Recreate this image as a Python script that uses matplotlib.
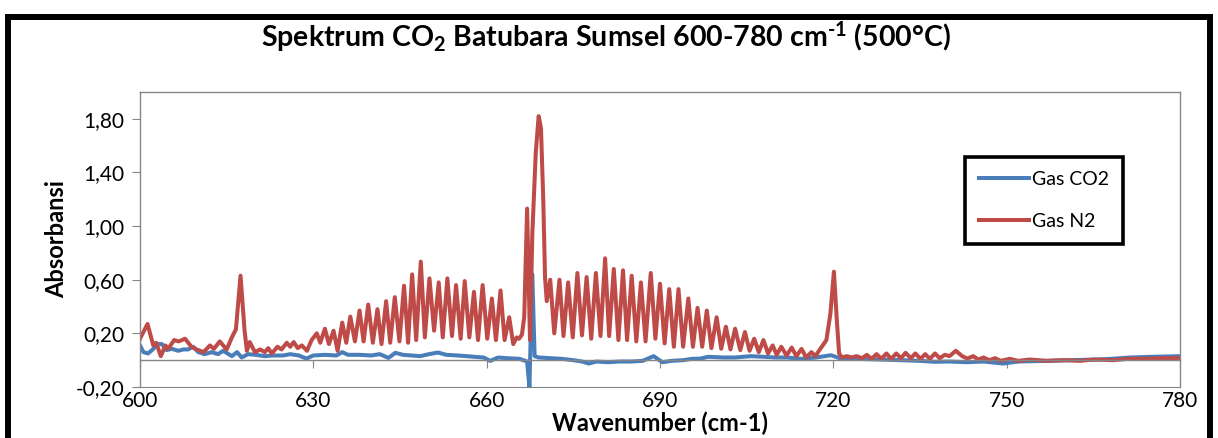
import numpy as np
import matplotlib
matplotlib.use("Agg")
import matplotlib.pyplot as plt
from matplotlib.ticker import FuncFormatter
from matplotlib.patches import Rectangle

plt.rcParams['font.family'] = ['Lato', 'DejaVu Sans']
plt.rcParams['mathtext.fontset'] = 'custom'
plt.rcParams['mathtext.rm'] = 'Lato:bold'
plt.rcParams['mathtext.bf'] = 'Lato:bold'
plt.rcParams['mathtext.default'] = 'rm'

# Gas N2 spectrum (peaks and valleys)
wn_n2 = [600.0, 601.3, 602.3, 602.8, 603.6, 604.4, 604.9, 605.9, 606.7, 607.8,
         608.9, 609.8, 611.0, 612.1, 612.8, 613.8, 615.0, 615.9, 616.6, 617.4,
         618.1, 618.5, 619.0, 619.9, 620.8, 621.6, 622.2, 622.8, 623.8, 624.5,
         625.4, 626.0, 626.6, 627.3, 628.0, 628.9, 629.7, 630.6, 631.2, 632.0,
         632.7, 633.5, 634.2, 635.0, 635.7, 636.4, 637.2, 638.0, 638.7, 639.5,
         640.3, 641.1, 641.8, 642.6, 643.3, 644.1, 644.9, 645.7, 646.4, 647.1,
         647.8, 648.6, 649.3, 650.1, 650.9, 651.7, 652.4, 653.2, 654.0, 654.7,
         655.5, 656.2, 657.0, 657.8, 658.5, 659.3, 660.1, 660.9, 661.6, 662.4,
         663.1, 663.9, 664.6, 665.2, 665.6, 666.1, 666.5, 667.0, 667.5, 667.9,
         668.5, 669.0, 669.4, 669.8, 670.1, 670.4, 671.0, 671.7, 672.6, 673.3,
         674.1, 674.9, 675.7, 676.5, 677.3, 678.1, 678.9, 679.7, 680.5, 681.2,
         682.0, 682.8, 683.6, 684.3, 685.1, 685.9, 686.7, 687.5, 688.4, 689.2,
         690.0, 690.8, 691.6, 692.4, 693.2, 694.0, 694.9, 695.7, 696.5, 697.3,
         698.1, 698.9, 699.8, 700.6, 701.4, 702.2, 703.0, 703.9, 704.7, 705.5,
         706.3, 707.1, 707.9, 708.7, 709.5, 710.2, 711.0, 711.9, 712.8, 713.6,
         714.5, 715.3, 716.2, 716.9, 717.5, 718.0, 718.8, 719.5, 720.1, 720.6,
         721.0, 721.5, 722.3, 723.2, 724.0, 725.0, 725.8, 726.6, 727.5, 728.3,
         729.2, 730.0, 730.9, 731.7, 732.5, 733.4, 734.2, 735.1, 735.9, 736.7,
         737.6, 738.4, 739.3, 740.1, 741.2, 742.3, 743.2, 744.2, 745.1, 746.0,
         747.0, 748.0, 749.0, 750.5, 752.0, 754.0, 757.0, 760.0, 762.7, 765.0,
         768.5, 771.0, 774.3, 777.0, 780.0]
abs_n2 = [0.16, 0.27, 0.11, 0.13, 0.03, 0.11, 0.085, 0.15, 0.14, 0.16,
          0.10, 0.08, 0.06, 0.11, 0.085, 0.14, 0.08, 0.17, 0.23, 0.63,
          0.22, 0.07, 0.135, 0.06, 0.08, 0.06, 0.09, 0.05, 0.10, 0.08,
          0.13, 0.10, 0.135, 0.09, 0.11, 0.07, 0.15, 0.20, 0.13, 0.235,
          0.12, 0.22, 0.07, 0.28, 0.13, 0.325, 0.14, 0.37, 0.14, 0.415,
          0.13, 0.38, 0.12, 0.44, 0.13, 0.47, 0.14, 0.555, 0.13, 0.64,
          0.15, 0.735, 0.17, 0.61, 0.22, 0.58, 0.17, 0.61, 0.18, 0.56,
          0.16, 0.59, 0.17, 0.51, 0.15, 0.56, 0.16, 0.46, 0.15, 0.52,
          0.15, 0.32, 0.12, 0.17, 0.16, 0.19, 0.32, 1.13, 0.15, 0.94,
          1.55, 1.82, 1.73, 1.19, 0.62, 0.44, 0.60, 0.20, 0.60, 0.18,
          0.58, 0.17, 0.65, 0.185, 0.62, 0.16, 0.65, 0.18, 0.76, 0.18,
          0.68, 0.15, 0.67, 0.15, 0.63, 0.14, 0.58, 0.14, 0.65, 0.16,
          0.57, 0.125, 0.53, 0.10, 0.53, 0.10, 0.46, 0.10, 0.39, 0.10,
          0.37, 0.09, 0.32, 0.085, 0.25, 0.08, 0.235, 0.075, 0.21, 0.07,
          0.16, 0.06, 0.15, 0.05, 0.11, 0.04, 0.10, 0.035, 0.094, 0.03,
          0.084, 0.02, 0.06, 0.03, 0.07, 0.10, 0.15, 0.35, 0.66, 0.30,
          0.05, 0.02, 0.03, 0.02, 0.03, 0.015, 0.04, 0.01, 0.045, 0.01,
          0.05, 0.01, 0.05, 0.015, 0.055, 0.015, 0.05, 0.01, 0.045, 0.01,
          0.05, 0.015, 0.04, 0.03, 0.07, 0.03, 0.012, 0.03, 0.005, 0.02,
          0.0, 0.015, -0.005, 0.01, -0.005, 0.005, -0.005, 0.0, -0.005, 0.005,
          0.0, 0.01, 0.01, 0.015, 0.014]

# Gas CO2 spectrum
wn_co2 = [600.0, 600.6, 601.4, 602.2, 603.1, 603.8, 604.6, 605.5, 606.6, 607.5,
          608.3, 609.2, 610.1, 611.2, 612.4, 613.5, 614.4, 615.9, 616.8, 617.6,
          618.7, 620.0, 621.6, 623.0, 624.8, 626.0, 627.5, 628.8, 630.0, 632.0,
          634.0, 635.0, 636.0, 638.0, 640.0, 641.5, 643.0, 644.2, 645.5, 647.0,
          648.5, 650.0, 651.6, 653.0, 655.0, 656.5, 657.9, 659.5, 660.6, 662.0,
          663.5, 665.7, 667.0, 667.4, 667.9, 668.3, 669.0, 671.0, 673.0, 675.0,
          676.5, 677.7, 679.0, 681.0, 683.0, 685.0, 687.0, 688.9, 690.4, 692.0,
          694.0, 695.5, 697.0, 698.3, 701.0, 703.0, 705.7, 708.0, 710.0, 712.0,
          714.4, 717.0, 719.6, 721.3, 724.0, 728.0, 731.7, 735.0, 737.5, 740.0,
          743.2, 746.0, 749.4, 752.0, 757.0, 761.0, 765.6, 768.0, 771.4, 775.0,
          780.0]
abs_co2 = [0.11, 0.06, 0.05, 0.08, 0.12, 0.12, 0.075, 0.085, 0.07, 0.08,
           0.08, 0.10, 0.06, 0.045, 0.06, 0.045, 0.07, 0.03, 0.06, 0.02,
           0.045, 0.04, 0.03, 0.035, 0.035, 0.045, 0.035, 0.012, 0.035, 0.04,
           0.035, 0.06, 0.04, 0.04, 0.035, 0.045, 0.017, 0.055, 0.04, 0.035,
           0.03, 0.045, 0.057, 0.04, 0.035, 0.03, 0.025, 0.02, -0.005, 0.02,
           0.015, 0.01, -0.01, -0.20, 0.64, 0.03, 0.02, 0.015, 0.01, 0.0,
           -0.01, -0.025, -0.01, -0.015, -0.01, -0.01, -0.005, 0.03, -0.015, -0.005,
           0.0, 0.01, 0.012, 0.025, 0.02, 0.02, 0.03, 0.025, 0.02, 0.02,
           0.01, 0.02, 0.037, 0.012, 0.01, 0.005, 0.0, -0.005, -0.012, -0.01,
           -0.015, -0.01, -0.025, -0.01, -0.005, 0.0, 0.005, 0.01, 0.02, 0.025,
           0.03]

xticks = [600, 630, 660, 690, 720, 750, 780]
yticks = [-0.2, 0.2, 0.6, 1.0, 1.4, 1.8]

gray = '#868686'
W, H = 1218, 438

fig = plt.figure(figsize=(W / 100, H / 100), dpi=100)
ax = fig.add_axes([140 / W, 1 - 387 / H, 1040 / W, 295 / H])

ax.plot(wn_co2, abs_co2, color='#4A7EBB', lw=2.9, label='Gas CO2',
        solid_joinstyle='round')
ax.plot(wn_n2, abs_n2, color='#BE4B48', lw=2.9, label='Gas N2',
        solid_joinstyle='round')

ax.set_xlim(600, 780)
ax.set_ylim(-0.2, 2.0)
ax.set_yticks(yticks)
ax.yaxis.set_major_formatter(FuncFormatter(lambda v, p: f"{v:.2f}".replace('.', ',')))
ax.set_xticks(xticks)

for s in ['left', 'right', 'top', 'bottom']:
    ax.spines[s].set_color(gray)
    ax.spines[s].set_linewidth(1.0)
ax.spines['bottom'].set_position(('data', 0))
ax.tick_params(axis='x', direction='out', length=6, color=gray, labelbottom=False)
ax.tick_params(axis='y', direction='out', length=6, color=gray, labelsize=15, pad=5)

sec = ax.secondary_xaxis('bottom')
sec.set_xticks(xticks)
sec.tick_params(length=0, labelsize=15, pad=3)
sec.spines['bottom'].set_color(gray)
sec.set_xlabel('Wavenumber (cm-1)', fontweight='bold', fontsize=17, labelpad=0)
ax.set_ylabel('Absorbansi', fontweight='bold', fontsize=17, labelpad=6)

fig.text(0.4975, 1 - 37 / H,
         r'Spektrum CO$_2$ Batubara Sumsel 600-780 cm$^{\text{-1}}$ (500°C)',
         ha='center', va='center', fontsize=20.5, fontweight='bold')

leg = ax.legend(loc='upper left', bbox_to_anchor=(965 / W, 1 - 157 / H),
                bbox_transform=fig.transFigure, borderaxespad=0,
                fontsize=14, frameon=True, fancybox=False, framealpha=1,
                handlelength=2.6, handletextpad=0.15, labelspacing=1.3,
                borderpad=0.7)
leg.get_frame().set_edgecolor('black')
leg.get_frame().set_linewidth(2.6)

fig.patches.append(Rectangle((8 / W, -0.2), 1202 / W, 1.2 - 17 / H,
                             transform=fig.transFigure, fill=False,
                             lw=4.3, ec='black'))

fig.savefig('out.png', dpi=100)
